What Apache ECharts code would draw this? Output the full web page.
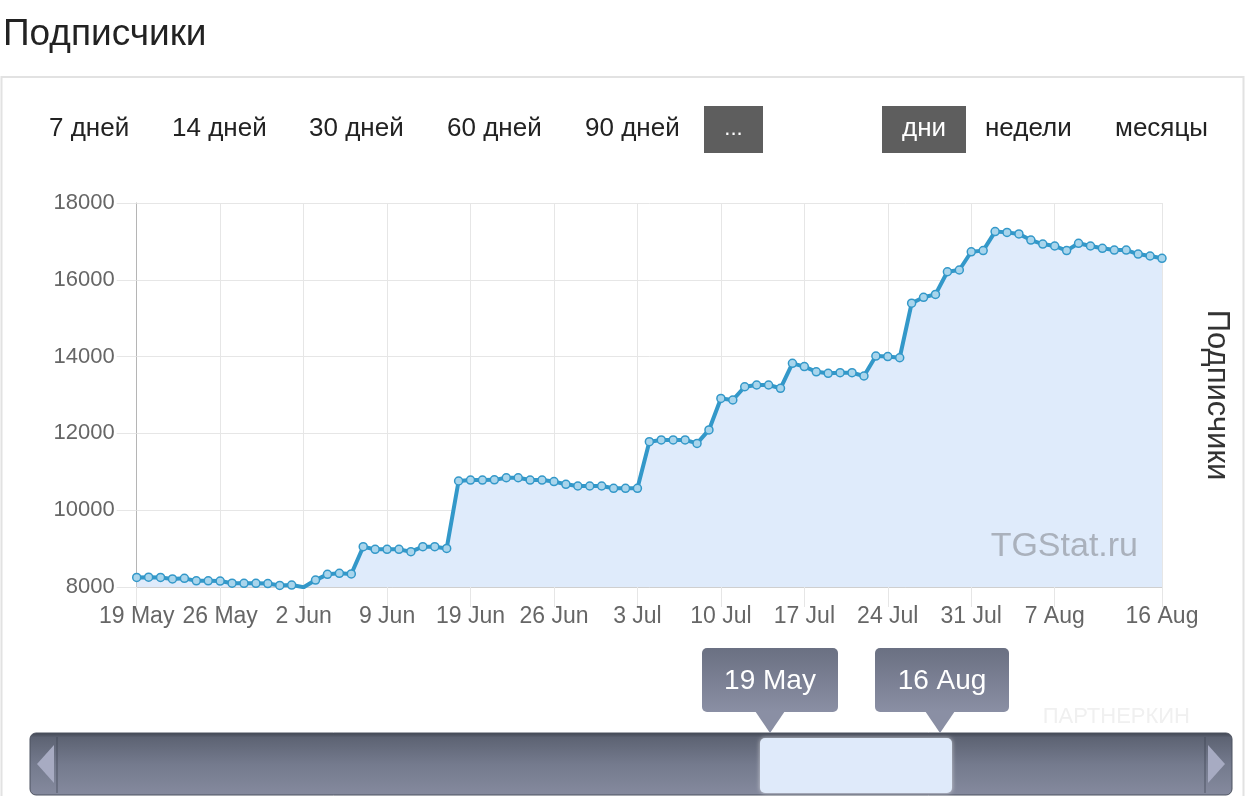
<!DOCTYPE html>
<html>
<head>
<meta charset="utf-8">
<script src="https://cdn.jsdelivr.net/npm/echarts@6/dist/echarts.min.js"></script>
<style>
html,body{margin:0;padding:0;background:#fff;}
#chart{width:1246px;height:796px;}
</style>
</head>
<body>
<div id="chart"></div>
<script>
const categories = [
  '19 May','20 May','21 May','22 May','23 May','24 May','25 May','26 May','27 May','28 May','29 May','30 May','31 May',
  '1 Jun','2 Jun','3 Jun','4 Jun','5 Jun','6 Jun','7 Jun','8 Jun','9 Jun','10 Jun','11 Jun','15 Jun','16 Jun','17 Jun','18 Jun',
  '19 Jun','20 Jun','21 Jun','22 Jun','23 Jun','24 Jun','25 Jun','26 Jun','27 Jun','28 Jun','29 Jun','30 Jun',
  '1 Jul','2 Jul','3 Jul','4 Jul','5 Jul','6 Jul','7 Jul','8 Jul','9 Jul','10 Jul','11 Jul','12 Jul','13 Jul','14 Jul','15 Jul','16 Jul',
  '17 Jul','18 Jul','19 Jul','20 Jul','21 Jul','22 Jul','23 Jul','24 Jul','25 Jul','26 Jul','27 Jul','28 Jul','29 Jul','30 Jul','31 Jul',
  '1 Aug','2 Aug','3 Aug','4 Aug','5 Aug','6 Aug','7 Aug','8 Aug','9 Aug','10 Aug','11 Aug','12 Aug','13 Aug','14 Aug','15 Aug','16 Aug'
];
const subscribers = [
  8250, 8255, 8250, 8210, 8225, 8160, 8160, 8155, 8100, 8095, 8095, 8090, 8040, 8050, 7995,
  8180, 8330, 8355, 8340, 9050, 8980, 8980, 8980, 8920, 9050, 9050, 9005,
  10760, 10785, 10785, 10790, 10845, 10845, 10785, 10785, 10745, 10675, 10630, 10630, 10630, 10570, 10570, 10570,
  11785, 11830, 11830, 11830, 11740, 12090, 12910, 12870, 13215, 13260, 13260, 13175, 13825, 13740, 13605, 13565, 13580, 13580, 13495,
  14015, 14000, 13970, 15390, 15545, 15620, 16210, 16255, 16730, 16760, 17255, 17235, 17195, 17035, 16930, 16880, 16760, 16950, 16880, 16820, 16775, 16775, 16670, 16620, 16560
];
const tickLabels = ['19 May','26 May','2 Jun','9 Jun','19 Jun','26 Jun','3 Jul','10 Jul','17 Jul','24 Jul','31 Jul','7 Aug','16 Aug'];
const periodButtons = ['7 дней','14 дней','30 дней','60 дней','90 дней'];
const groupButtons = ['дни','недели','месяцы'];
const rangeLabels = ['19 May','16 Aug'];
const titleText = 'Подписчики';

const FONT = '"Liberation Sans", Arial, Helvetica, sans-serif';
const showTick = (i, v) => tickLabels.indexOf(v) !== -1;

const periodX = [49, 172, 309, 447, 585];
const groupX = [924, 985, 1115];

function txt(x, y, text, size, fill, align, extra) {
  return Object.assign({type:'text', x:x, y:y, style:{text:text, font:size + 'px ' + FONT, fill:fill,
    textAlign:align, align:align, textVerticalAlign:'middle', verticalAlign:'middle'}}, extra || {});
}

const graphics = [];
graphics.push(txt(3, 35, titleText, 37, '#222', 'left'));
graphics.push({type:'rect', shape:{x:1.5, y:77, width:1242, height:740}, style:{fill:null, stroke:'#e2e2e2', lineWidth:2}});
periodButtons.forEach((t, i) => graphics.push(txt(periodX[i], 129, t, 26, '#222', 'left')));
graphics.push({type:'rect', shape:{x:704, y:106, width:59, height:47}, style:{fill:'#5e5e5e'}});
graphics.push(txt(733.5, 129, '...', 22, '#fff', 'center'));
graphics.push({type:'rect', shape:{x:882, y:106, width:84, height:47}, style:{fill:'#5e5e5e'}});
groupButtons.forEach((t, i) => graphics.push(txt(groupX[i], 129, t, 26, i === 0 ? '#fff' : '#222', i === 0 ? 'center' : 'left')));
graphics.push(txt(1217, 395, titleText, 31, '#333', 'center', {rotation:-Math.PI/2}));
graphics.push(txt(1138, 547, 'TGStat.ru', 34, '#aab1bc', 'right', {z:5}));
graphics.push(txt(1190, 717, 'ПАРТНЕРКИН', 22, '#f0f0f0', 'right'));
// navigator bar
graphics.push({type:'rect', shape:{x:30, y:733, width:1202, height:62, r:6}, style:{
  fill: new echarts.graphic.LinearGradient(0,0,0,1,[{offset:0,color:'#3f4450'},{offset:0.08,color:'#5d6373'},{offset:0.5,color:'#747a8d'},{offset:1,color:'#858a9e'}]),
  stroke:'#4d5260', lineWidth:1}});
graphics.push({type:'rect', shape:{x:56, y:737, width:2, height:56}, style:{fill:'rgba(60,65,80,0.35)'}});
graphics.push({type:'rect', shape:{x:1204, y:737, width:2, height:56}, style:{fill:'rgba(60,65,80,0.35)'}});
graphics.push({type:'polygon', shape:{points:[[54,745],[54,783],[37,764]]}, style:{fill:'#a7abc2'}});
graphics.push({type:'polygon', shape:{points:[[1208,745],[1208,783],[1225,764]]}, style:{fill:'#a7abc2'}});
graphics.push({type:'rect', shape:{x:760, y:738, width:192, height:55, r:5}, style:{fill:'#dfeafa', shadowBlur:4, shadowColor:'rgba(255,255,255,0.6)'}});
// range tooltips
const tipBoxes = [[702, 136, 770], [875, 134, 940]];
rangeLabels.forEach((t, i) => {
  const b = tipBoxes[i];
  const grad = new echarts.graphic.LinearGradient(0,0,0,1,[{offset:0,color:'#6a7082'},{offset:1,color:'#8a8fa4'}]);
  graphics.push({type:'rect', shape:{x:b[0], y:648, width:b[1], height:64, r:5}, style:{fill:grad}});
  graphics.push({type:'polygon', shape:{points:[[b[2]-15,711],[b[2]+15,711],[b[2],733]]}, style:{fill:'#8a8fa4'}});
  graphics.push(txt(b[0] + b[1]/2, 681, t, 28, '#fff', 'center'));
});

const chart = echarts.init(document.getElementById('chart'));
chart.setOption({
  animation: false,
  backgroundColor: '#fff',
  grid: {left: 136.7, right: 84, top: 203, bottom: 209, containLabel: false},
  xAxis: {
    type: 'category',
    data: categories,
    boundaryGap: false,
    axisLine: {show: true, lineStyle: {color: '#cfcfcf', width: 1}},
    axisTick: {show: true, interval: showTick, length: 20, lineStyle: {color: '#e6e6e6'}},
    axisLabel: {interval: showTick, fontSize: 23, fontFamily: FONT, color: '#666', margin: 18},
    splitLine: {show: true, interval: showTick, lineStyle: {color: '#e6e6e6'}}
  },
  yAxis: {
    type: 'value',
    min: 8000, max: 18000, interval: 2000,
    axisLine: {show: true, lineStyle: {color: '#b5b5b5'}},
    axisTick: {show: true, length: 20, lineStyle: {color: '#e6e6e6'}},
    axisLabel: {fontSize: 22, fontFamily: FONT, color: '#666', margin: 22, formatter: v => String(v)},
    splitLine: {show: true, lineStyle: {color: '#e6e6e6'}}
  },
  series: [{
    type: 'line',
    data: subscribers,
    showAllSymbol: true,
    symbol: 'circle',
    symbolSize: 8,
    lineStyle: {color: '#3398c9', width: 4},
    itemStyle: {color: '#a9d5ec', borderColor: '#3398c9', borderWidth: 1.5},
    areaStyle: {color: '#dfebfb', opacity: 1},
    z: 3
  }],
  graphic: {elements: graphics}
});
</script>
</body>
</html>
